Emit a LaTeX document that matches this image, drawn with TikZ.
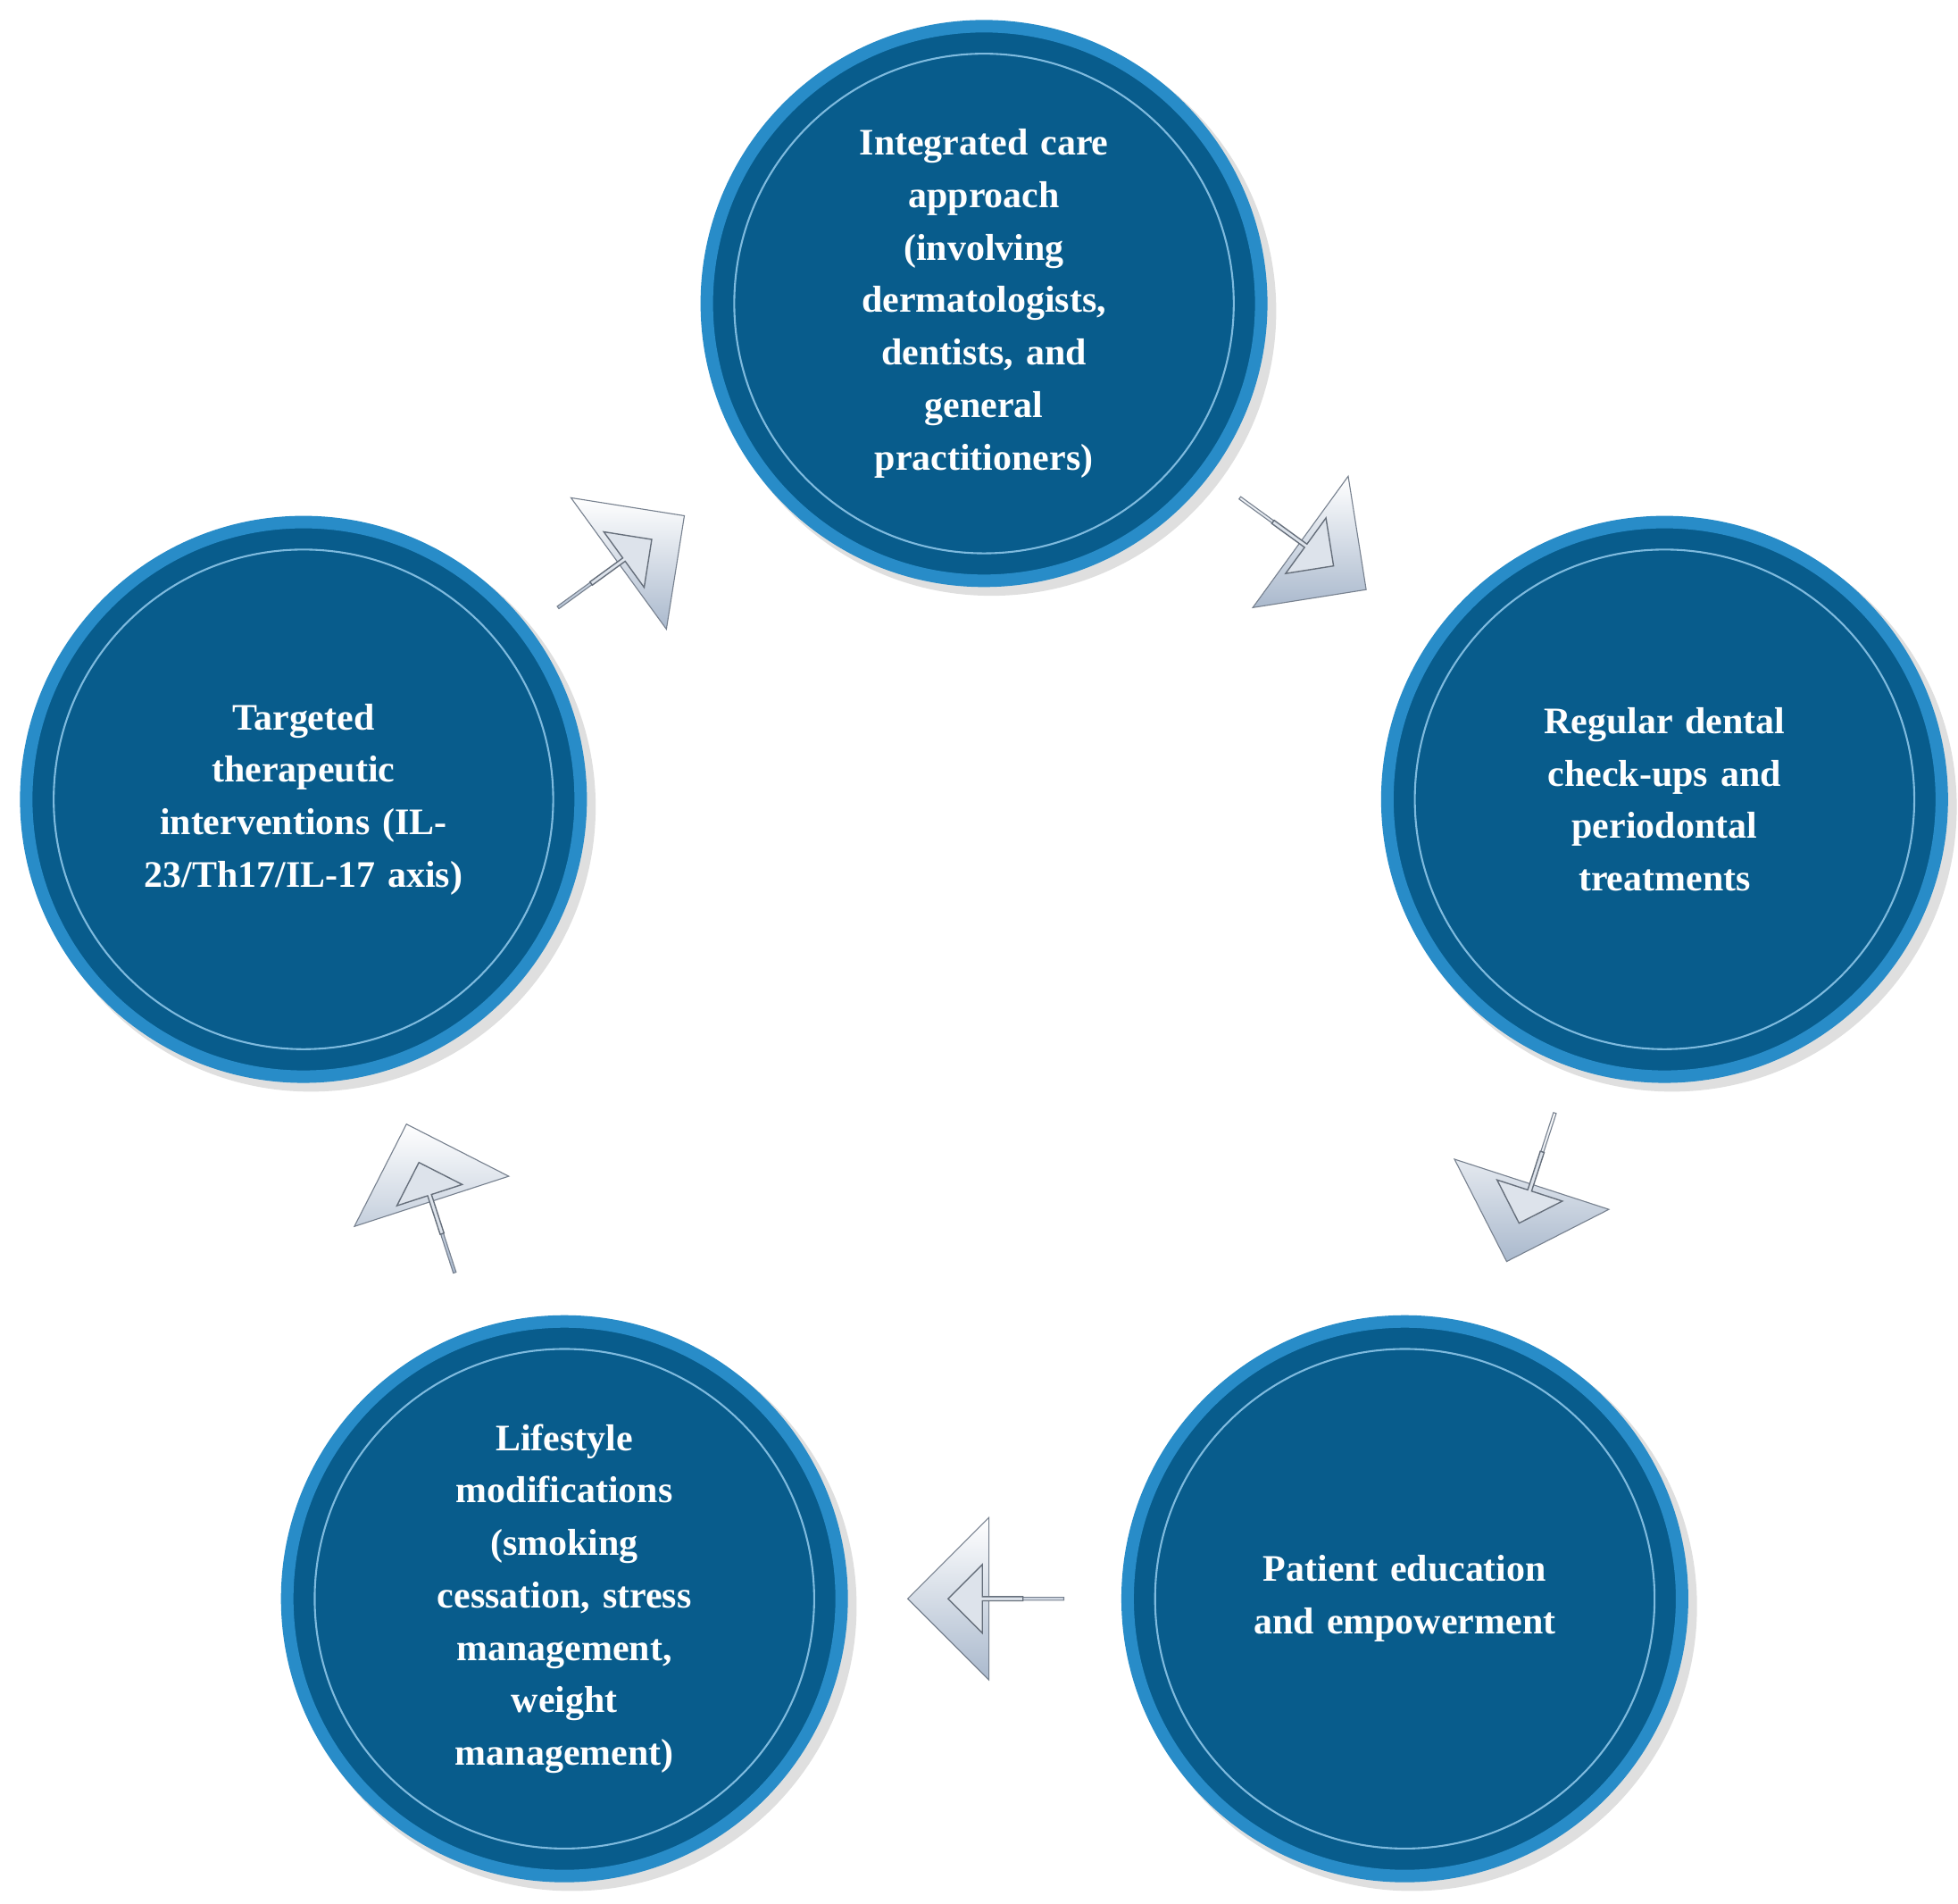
\documentclass[tikz,border=0pt]{standalone}
\usepackage{fontspec}
\setmainfont{Liberation Serif}
\usetikzlibrary{shapes.arrows,shadings}
\definecolor{cblue}{RGB}{8,92,140}
\definecolor{rimblue}{RGB}{40,140,200}
\definecolor{agrey}{RGB}{170,185,205}
\tikzset{
 circ/.style={circle,minimum size=444pt,inner sep=0pt,fill=cblue,draw=rimblue,line width=10pt,
   text=white,font=\fontsize{30}{42}\selectfont\bfseries,align=center,text width=300pt},
 inring/.style={circle,minimum size=400pt,draw=rimblue!70!white,line width=1.5pt},
 barr/.style={single arrow,minimum height=125pt,minimum width=130pt,single arrow head extend=22pt,
   inner sep=0pt,top color=white,bottom color=agrey,draw=agrey!70!black,line width=0.8pt},
 iarr/.style={single arrow,minimum height=60pt,minimum width=55pt,single arrow head extend=8pt,
   inner sep=0pt,fill=agrey!40!white,draw=agrey!60!black,line width=1pt}
}
\begin{document}
\begin{tikzpicture}[x=1pt,y=1pt]
\useasboundingbox (0,0) rectangle (1568,1524);
\foreach \n/\x/\y in {t/788/1281,r/1333/884,br/1125/244,bl/452/244,l/243/884}{
  \fill[black!25,opacity=0.5] (\x+6,\y-6) circle (228pt);
  \node[inring] at (\x,\y) {};
}
\node[circ] (top) at (788,1281) {Integrated care\\approach\\(involving\\dermatologists,\\dentists, and\\general\\practitioners)};
\node[circ] (right) at (1333,884) {Regular dental\\check-ups and\\periodontal\\treatments};
\node[circ] (bright) at (1125,244) {Patient education\\and empowerment};
\node[circ] (bleft) at (452,244) {Lifestyle\\modifications\\(smoking\\cessation, stress\\management,\\weight\\management)};
\node[circ] (left) at (243,884) {Targeted\\therapeutic\\interventions (IL-\\23/Th17/IL-17 axis)};
\foreach \x/\y in {788/1281,1333/884,1125/244,452/244,243/884}
  \draw[rimblue!60!white,line width=1.5pt] (\x,\y) circle (200pt);
\foreach \n/\x/\y/\a in {a1/497/1074/36,a2/1043/1089/-36,a3/1226/574/-108,a4/790/244/180,a5/345/564/108}{
  \node[barr,rotate=\a] (\n) at (\x,\y) {};
  \node[iarr,rotate=\a] (\n i) at (\x,\y) {};
}
\end{tikzpicture}
\end{document}
